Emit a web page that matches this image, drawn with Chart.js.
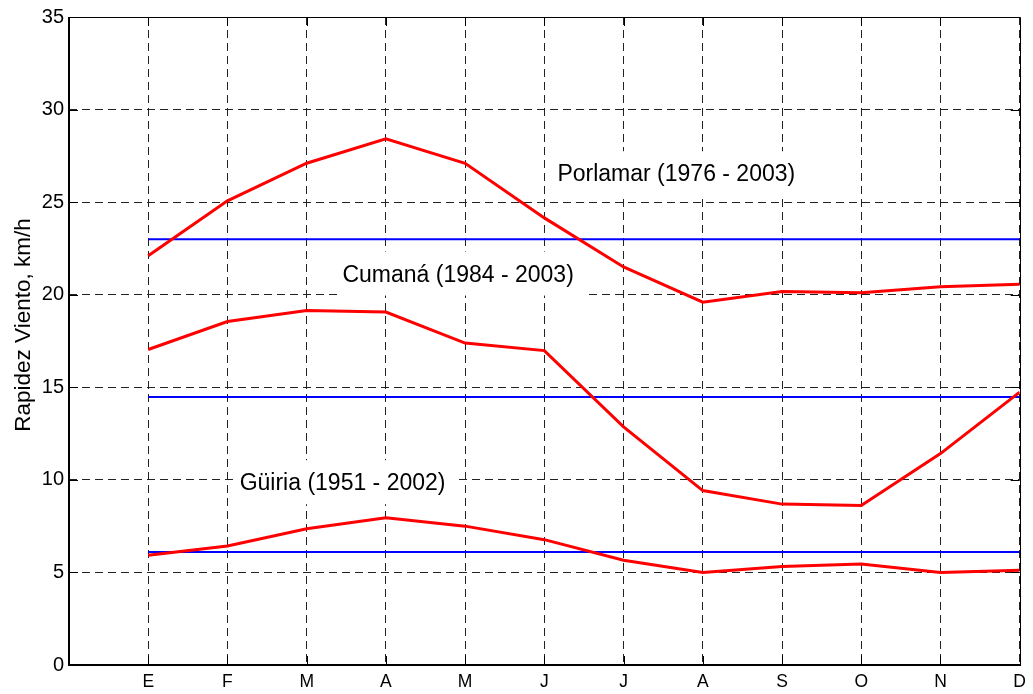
<!DOCTYPE html>
<html>
<head>
<meta charset="utf-8">
<script src="https://cdn.jsdelivr.net/npm/chart.js@4.4.0/dist/chart.umd.min.js"></script>
<style>
  html, body { margin: 0; padding: 0; background: #ffffff; }
  #wrap { width: 1033px; height: 694px; }
</style>
</head>
<body>
<div id="wrap"><canvas id="chart" width="1033" height="694"></canvas></div>
<script>
// Month initials (Spanish), one per x position 1..12
const months = ['E', 'F', 'M', 'A', 'M', 'J', 'J', 'A', 'S', 'O', 'N', 'D'];

// Monthly mean wind speed, km/h
const porlamar = [22.1, 25.07, 27.1, 28.42, 27.1, 24.15, 21.5, 19.6, 20.17, 20.11, 20.43, 20.56];
const cumana   = [17.04, 18.55, 19.15, 19.06, 17.39, 16.98, 12.86, 9.42, 8.69, 8.62, 11.42, 14.74];
const guiria   = [5.93, 6.43, 7.36, 7.95, 7.50, 6.77, 5.66, 5.0, 5.32, 5.46, 5.0, 5.12];

// Annual means (Porlamar, Cumaná, Güiria)
const annualMeans = [23.0, 14.47, 6.10];

// Station captions and their anchor (x = month position, y = km/h at the baseline)
const stationNames = ['Porlamar (1976 - 2003)', 'Cumaná (1984 - 2003)', 'Güiria (1951 - 2002)'];
const captionAnchors = [[6.165, 26.13], [3.451, 20.71], [2.154, 9.44]];

const yTitle = 'Rapidez Viento, km/h';
const FONT = '"Liberation Sans", Arial, Helvetica, sans-serif';

const toPoints = vals => vals.map((v, i) => ({ x: i + 1, y: v }));
const meanLine = m => [{ x: 1, y: m }, { x: months.length, y: m }];

const redStyle = { borderColor: '#ff0000', borderWidth: 3, pointRadius: 0, tension: 0, fill: false };
const blueStyle = { borderColor: '#0000ff', borderWidth: 2, pointRadius: 0, tension: 0, fill: false };

const datasets = [
  { label: 'Porlamar', data: toPoints(porlamar), ...redStyle },
  { label: 'Cumaná', data: toPoints(cumana), ...redStyle },
  { label: 'Güiria', data: toPoints(guiria), ...redStyle },
  { label: 'Media Porlamar', data: meanLine(annualMeans[0]), ...blueStyle },
  { label: 'Media Cumaná', data: meanLine(annualMeans[1]), ...blueStyle },
  { label: 'Media Güiria', data: meanLine(annualMeans[2]), ...blueStyle }
];

// White-backed station captions, drawn over the grid and under the curves
const captionPlugin = {
  id: 'stationCaptions',
  beforeDatasetsDraw(chart) {
    const { ctx, scales: { x, y } } = chart;
    ctx.save();
    ctx.font = '23px ' + FONT;
    stationNames.forEach((name, i) => {
      const px = x.getPixelForValue(captionAnchors[i][0]);
      const py = y.getPixelForValue(captionAnchors[i][1]);
      const w = ctx.measureText(name).width;
      ctx.fillStyle = '#ffffff';
      ctx.fillRect(px - 4, py - 30, w + 16, 44);
      ctx.fillStyle = '#000000';
      ctx.textAlign = 'left';
      ctx.textBaseline = 'alphabetic';
      ctx.fillText(name, px, py);
    });
    ctx.restore();
  }
};

// Box frame with inward tick marks on all four sides, plus the rotated y title
const framePlugin = {
  id: 'boxFrame',
  afterDatasetsDraw(chart) {
    const { ctx, chartArea: a, scales: { x, y } } = chart;
    const tick = 9;
    ctx.save();
    ctx.strokeStyle = '#000000';
    ctx.lineWidth = 1;
    ctx.beginPath();
    x.ticks.forEach(t => {
      if (t.value <= x.min || t.value >= x.max) return;
      const px = Math.round(x.getPixelForValue(t.value)) + 0.5;
      ctx.moveTo(px, a.bottom); ctx.lineTo(px, a.bottom - tick);
      ctx.moveTo(px, a.top); ctx.lineTo(px, a.top + tick);
    });
    y.ticks.forEach(t => {
      if (t.value <= y.min || t.value >= y.max) return;
      const py = Math.round(y.getPixelForValue(t.value)) + 0.5;
      ctx.moveTo(a.left, py); ctx.lineTo(a.left + tick, py);
      ctx.moveTo(a.right, py); ctx.lineTo(a.right - tick, py);
    });
    ctx.stroke();
    // top and right edges
    ctx.beginPath();
    ctx.moveTo(Math.round(a.left), Math.round(a.top) + 0.5);
    ctx.lineTo(Math.round(a.right) + 0.5, Math.round(a.top) + 0.5);
    ctx.lineTo(Math.round(a.right) + 0.5, Math.round(a.bottom));
    ctx.stroke();
    // left and bottom edges, slightly heavier
    ctx.lineWidth = 2;
    ctx.beginPath();
    ctx.moveTo(Math.round(a.left), Math.round(a.top));
    ctx.lineTo(Math.round(a.left), Math.round(a.bottom));
    ctx.lineTo(Math.round(a.right) + 1, Math.round(a.bottom));
    ctx.stroke();
    ctx.restore();
  },
  afterDraw(chart) {
    const { ctx } = chart;
    ctx.save();
    ctx.font = '22.5px ' + FONT;
    ctx.fillStyle = '#000000';
    ctx.textAlign = 'center';
    ctx.textBaseline = 'alphabetic';
    ctx.translate(29.5, 325);
    ctx.rotate(-Math.PI / 2);
    ctx.fillText(yTitle, 0, 0);
    ctx.restore();
  }
};

const gridColor = c => (c.tick && c.tick.value === 0) ? 'rgba(0,0,0,0)' : '#222222';

new Chart(document.getElementById('chart'), {
  type: 'line',
  data: { datasets },
  options: {
    responsive: false,
    animation: false,
    devicePixelRatio: 1,
    layout: { padding: { left: 0, right: 11, top: 14, bottom: 0 } },
    plugins: {
      legend: { display: false },
      tooltip: { enabled: false },
      title: { display: false }
    },
    scales: {
      x: {
        type: 'linear',
        min: 0,
        max: 12,
        afterFit: s => { s.height = 29; },
        afterBuildTicks: s => { s.ticks = Array.from({ length: 13 }, (_, i) => ({ value: i })); },
        ticks: {
          autoSkip: false,
          maxRotation: 0,
          padding: 7,
          color: '#000000',
          font: { family: FONT, size: 17.5 },
          callback: v => months[v - 1] || ''
        },
        grid: { color: gridColor, lineWidth: 1, drawTicks: false },
        border: { display: false, dash: [8, 5] }
      },
      y: {
        min: 0,
        max: 35,
        afterFit: s => { s.width = 69; },
        ticks: {
          stepSize: 5,
          padding: 5,
          color: '#000000',
          font: { family: FONT, size: 20 }
        },
        grid: { color: gridColor, lineWidth: 1, drawTicks: false },
        border: { display: false, dash: [8, 5] }
      }
    }
  },
  plugins: [captionPlugin, framePlugin]
});
</script>
</body>
</html>
